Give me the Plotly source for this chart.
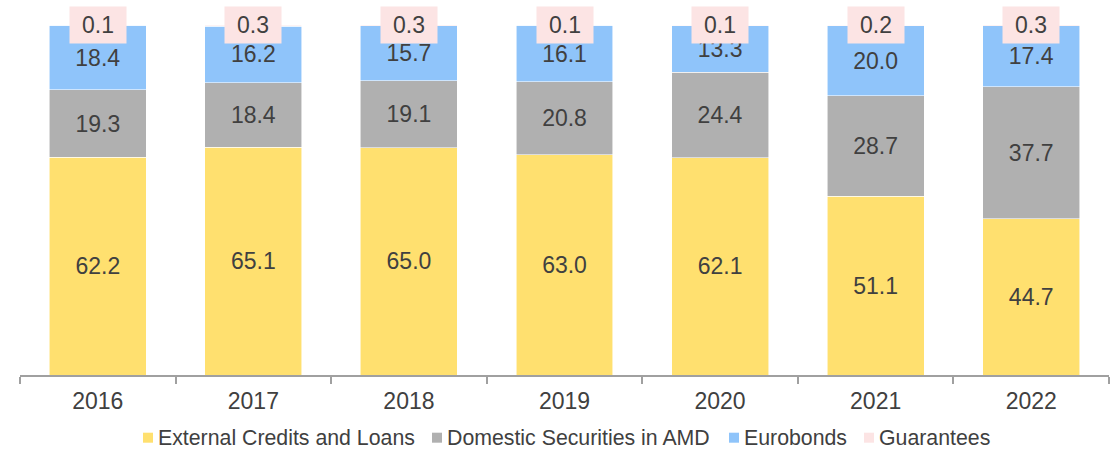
import plotly.graph_objects as go

years = ["2016", "2017", "2018", "2019", "2020", "2021", "2022"]
external = [62.2, 65.1, 65.0, 63.0, 62.1, 51.1, 44.7]
domestic = [19.3, 18.4, 19.1, 20.8, 24.4, 28.7, 37.7]
eurobonds = [18.4, 16.2, 15.7, 16.1, 13.3, 20.0, 17.4]
guarantees = [0.1, 0.3, 0.3, 0.1, 0.1, 0.2, 0.3]

names = ["External Credits and Loans", "Domestic Securities in AMD", "Eurobonds", "Guarantees"]
colors = ["#FFE06F", "#B0B0B0", "#8FC4FA", "#FCE4E4"]
series = [external, domestic, eurobonds, guarantees]

FONT = "Liberation Sans, Arial, sans-serif"
TXT = "#404040"

W, H = 1115, 450
ML, MR, MT, MB = 20, 6, 25, 75

fig = go.Figure()
for nm, vals, col in zip(names, series, colors):
    is_g = nm == "Guarantees"
    fig.add_trace(go.Bar(
        x=years, y=vals, name=nm,
        marker=dict(color=col, line=dict(color="rgba(255,255,255,0.7)", width=0.8)),
        text=None if is_g else [f"{v:.1f}" for v in vals],
        textposition="none" if is_g else "inside",
        insidetextanchor="middle",
        textfont=dict(family=FONT, size=23, color=TXT),
        constraintext="none",
        hoverinfo="skip",
        showlegend=False,
    ))

# Guarantees labels with pink background, centred on the top of each bar
for i, g in enumerate(guarantees):
    fig.add_annotation(
        x=i, y=100, xref="x", yref="y", text=f"{g:.1f}", showarrow=False,
        xanchor="center", yanchor="middle",
        bgcolor="#FCE4E4", width=50, height=30, borderpad=3,
        font=dict(family=FONT, size=23, color=TXT),
    )

# Legend (drawn in the bottom margin): square swatch + label
pw = W - ML - MR
ph = H - MT - MB
def px_x(p):
    return (p - ML) / pw
def px_y(p):
    return (H - MB - p) / ph

legend_start_px = [143, 432, 729, 864]
leg_y = 437.7
for nm, col, sx in zip(names, colors, legend_start_px):
    fig.add_shape(
        type="rect", xref="paper", yref="paper",
        x0=px_x(sx), x1=px_x(sx + 10), y0=px_y(leg_y + 5), y1=px_y(leg_y - 5),
        fillcolor=col, line=dict(width=0), layer="above",
    )
    fig.add_annotation(
        x=px_x(sx + 13), y=px_y(leg_y), xref="paper", yref="paper",
        text=nm, showarrow=False, xanchor="left", yanchor="middle",
        font=dict(family=FONT, size=21.3, color=TXT),
    )

fig.update_layout(
    barmode="stack",
    bargap=0.377,
    width=W, height=H,
    margin=dict(l=ML, r=MR, t=MT, b=MB, autoexpand=False),
    paper_bgcolor="white", plot_bgcolor="white",
    font=dict(family=FONT, color=TXT),
    showlegend=False,
    xaxis=dict(
        type="category", categoryorder="array", categoryarray=years,
        range=[-0.5, len(years) - 0.5], automargin=False,
        showline=True, linecolor="#A0A0A0", linewidth=2,
        ticks="outside", tickson="boundaries", ticklen=7, tickcolor="#A0A0A0", tickwidth=2,
        ticklabelstandoff=4,
        tickfont=dict(family=FONT, size=23, color=TXT), showgrid=False,
    ),
    yaxis=dict(range=[0, 100], visible=False, showgrid=False, zeroline=False, automargin=False),
)

fig.write_html(
    "out.html",
    config={"displayModeBar": False},
    post_script="document.body.style.margin='0';document.body.style.overflow='hidden';",
)
